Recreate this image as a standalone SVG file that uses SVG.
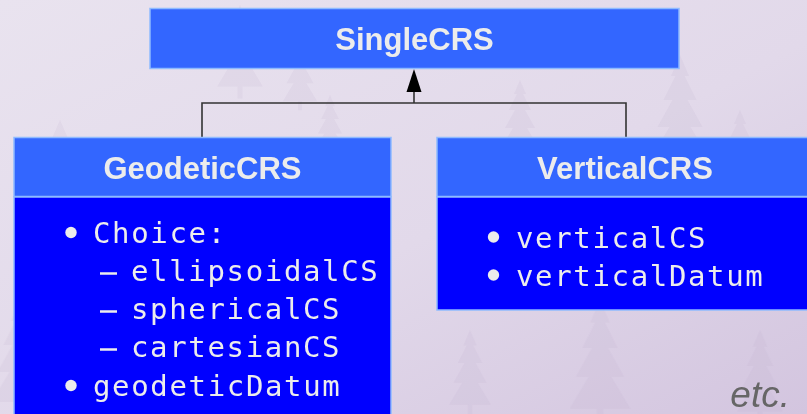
<svg xmlns="http://www.w3.org/2000/svg" width="807" height="414" viewBox="0 0 807 414">
  <defs>
    <linearGradient id="bg" x1="0" y1="0" x2="1" y2="1">
      <stop offset="0" stop-color="#e9e3ef"/>
      <stop offset="0.55" stop-color="#e2d9ea"/>
      <stop offset="1" stop-color="#d3c5df"/>
    </linearGradient>
    <path id="tree" d="M0 0 L-6 14 L-3 14 L-11 30 L-5 30 L-15 48 L-7 48 L-19 68 L-2 68 L-2 78 L2 78 L2 68 L19 68 L7 48 L15 48 L5 30 L11 30 L3 14 L6 14 Z"/>
  </defs>
  <style>
    .hdr { fill: #3366ff; stroke: #8fbaff; stroke-width: 1.5; }
    .body { fill: #0000ff; stroke: #8fbaff; stroke-width: 1.5; }
    .title { font-family: "Liberation Sans", Arial, sans-serif; font-weight: bold; font-size: 31px; fill: #ececec; text-anchor: middle; }
    .mono { font-family: "DejaVu Sans Mono", monospace; font-size: 29px; letter-spacing: 1.65px; fill: #ececec; }
    .dot { fill: #ececec; }
    .dash { stroke: #ececec; stroke-width: 2.5; }
    .wire { fill: none; stroke: #333; stroke-width: 1.6; }
    .trees use { fill: #b8a6c8; }
  </style>

  <!-- backdrop with a faint forest -->
  <rect width="807" height="414" fill="url(#bg)"/>
  <g class="trees" opacity="0.13">
    <use href="#tree" transform="translate(60,120) scale(1.4)"/>
    <use href="#tree" transform="translate(105,150) scale(1.1)"/>
    <use href="#tree" transform="translate(240,5) scale(1.2)"/>
    <use href="#tree" transform="translate(300,40) scale(0.9)"/>
    <use href="#tree" transform="translate(330,95) scale(0.8)"/>
    <use href="#tree" transform="translate(520,80) scale(1.0)"/>
    <use href="#tree" transform="translate(680,55) scale(1.5)"/>
    <use href="#tree" transform="translate(740,110) scale(1.0)"/>
    <use href="#tree" transform="translate(600,300) scale(1.6)"/>
    <use href="#tree" transform="translate(470,330) scale(1.1)"/>
    <use href="#tree" transform="translate(760,330) scale(1.2)"/>
    <use href="#tree" transform="translate(20,300) scale(1.5)"/>
  </g>

  <!-- generalisation: both subtypes join into one arrow up to SingleCRS -->
  <g id="connectors">
    <path class="wire" d="M202 137 V103 H626 V137"/>
    <path class="wire" d="M414 103 V91"/>
    <path d="M414 69 L421.5 92 L406.5 92 Z" fill="#000"/>
  </g>

  <g id="SingleCRS">
    <rect class="hdr" x="150" y="8.5" width="529" height="60"/>
    <text class="title" x="414.5" y="50">SingleCRS</text>
  </g>

  <g id="GeodeticCRS">
    <rect class="hdr" x="14" y="137.5" width="377" height="59"/>
    <rect class="body" x="14" y="197" width="377" height="230"/>
    <text class="title" x="202.5" y="179">GeodeticCRS</text>
    <circle class="dot" cx="71" cy="232.5" r="5.7"/>
    <text class="mono" x="93" y="243">Choice:</text>
    <line class="dash" x1="100" y1="273.5" x2="117" y2="273.5"/>
    <text class="mono" x="131" y="281">ellipsoidalCS</text>
    <line class="dash" x1="100" y1="311.5" x2="117" y2="311.5"/>
    <text class="mono" x="131" y="319">sphericalCS</text>
    <line class="dash" x1="100" y1="349.5" x2="117" y2="349.5"/>
    <text class="mono" x="131" y="357">cartesianCS</text>
    <circle class="dot" cx="71" cy="385.5" r="5.7"/>
    <text class="mono" x="93" y="396">geodeticDatum</text>
  </g>

  <g id="VerticalCRS">
    <rect class="hdr" x="437" y="137.5" width="376" height="59"/>
    <rect class="body" x="437" y="197" width="376" height="113"/>
    <text class="title" x="625" y="179">VerticalCRS</text>
    <circle class="dot" cx="493.5" cy="237" r="5.7"/>
    <text class="mono" x="516" y="248">verticalCS</text>
    <circle class="dot" cx="493.5" cy="275" r="5.7"/>
    <text class="mono" x="516" y="286">verticalDatum</text>
  </g>

  <text x="790" y="407" text-anchor="end" font-family="'Liberation Sans', Arial, sans-serif" font-style="italic" font-size="37" fill="#666">etc.</text>
</svg>
